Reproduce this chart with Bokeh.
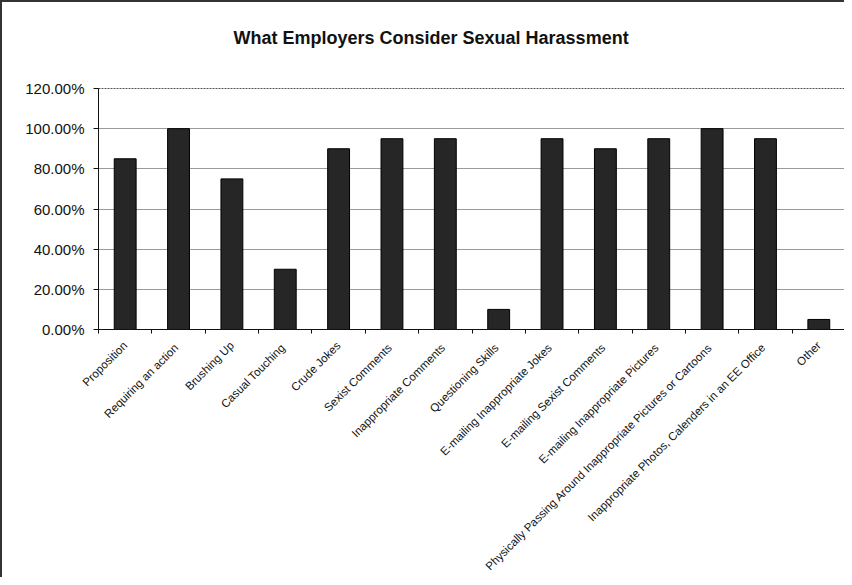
import math
from bokeh.plotting import figure
from bokeh.models import Range1d, FixedTicker, NumeralTickFormatter, ColumnDataSource, Title
from bokeh.embed import file_html
from bokeh.resources import INLINE

title_text = "What Employers Consider Sexual Harassment"
categories = [
    "Proposition",
    "Requiring  an action",
    "Brushing Up",
    "Casual  Touching",
    "Crude Jokes",
    "Sexist  Comments",
    "Inappropriate  Comments",
    "Questioning  Skills",
    "E-mailing  Inappropriate Jokes",
    "E-mailing  Sexist Comments",
    "E-mailing  Inappropriate Pictures",
    "Physically  Passing Around Inappropriate Pictures or Cartoons",
    "Inappropriate  Photos, Calenders in an EE Office",
    "Other",
]
values = [0.85, 1.00, 0.75, 0.30, 0.90, 0.95, 0.95, 0.10, 0.95, 0.90, 0.95, 1.00, 0.95, 0.05]
y_ticks = [0.0, 0.2, 0.4, 0.6, 0.8, 1.0, 1.2]

n = len(categories)
xpos = [i + 0.5 for i in range(n)]
src = ColumnDataSource(dict(x=xpos, top=values, name=categories))

p = figure(width=844, height=577, output_backend="svg", toolbar_location=None,
           x_range=Range1d(0, n), y_range=Range1d(0, 1.2),
           min_border_left=96, min_border_right=1, min_border_top=0, min_border_bottom=246)
p.styles = {"border-left": "2px solid #333", "border-top": "2px solid #333"}

p.title.text = title_text
p.title.align = "left"
p.title.offset = 135
p.title.text_font = "Liberation Sans"
p.title.text_font_size = "18px"
p.title.text_font_style = "bold"
p.title.text_color = "#111111"
p.title.standoff = 46

spacer = Title(text=" ", text_font_size="1px", standoff=15)
p.add_layout(spacer, "above")

p.vbar(x="x", top="top", width=0.41, source=src, fill_color="#262626",
       line_color="#000000", line_width=1)

# y axis
p.yaxis.ticker = FixedTicker(ticks=y_ticks)
p.yaxis.formatter = NumeralTickFormatter(format="0.00%")
p.yaxis.major_label_text_font = "Liberation Sans"
p.yaxis.major_label_text_font_size = "15px"
p.yaxis.major_label_text_color = "#111111"
p.yaxis.major_tick_out = 5
p.yaxis.major_tick_in = 0
p.yaxis.minor_tick_out = 0
p.yaxis.minor_tick_in = 0
p.yaxis.axis_line_color = "#111111"
p.yaxis.major_tick_line_color = "#111111"
p.yaxis.major_label_standoff = 9

# x axis
p.xaxis.ticker = FixedTicker(ticks=xpos, minor_ticks=list(range(n + 1)))
p.xaxis.major_label_overrides = {x: c for x, c in zip(xpos, categories)}
p.xaxis.major_label_orientation = math.pi / 4
p.xaxis.major_label_text_font = "Liberation Sans"
p.xaxis.major_label_text_font_size = "11.5px"
p.xaxis.major_label_text_color = "#111111"
p.xaxis.major_tick_out = 0
p.xaxis.major_tick_in = 0
p.xaxis.minor_tick_out = 4
p.xaxis.minor_tick_in = 0
p.xaxis.minor_tick_line_color = "#111111"
p.xaxis.axis_line_color = "#111111"
p.xaxis.major_label_standoff = 10

p.xgrid.visible = False
p.ygrid.ticker = FixedTicker(ticks=[0.2, 0.4, 0.6, 0.8, 1.0])
p.ygrid.grid_line_color = "#9a9a9a"
p.ygrid.grid_line_width = 1

p.outline_line_color = "#555555"
p.outline_line_dash = "2 1"
p.outline_line_width = 1

open("out.html", "w").write(file_html(p, INLINE))
